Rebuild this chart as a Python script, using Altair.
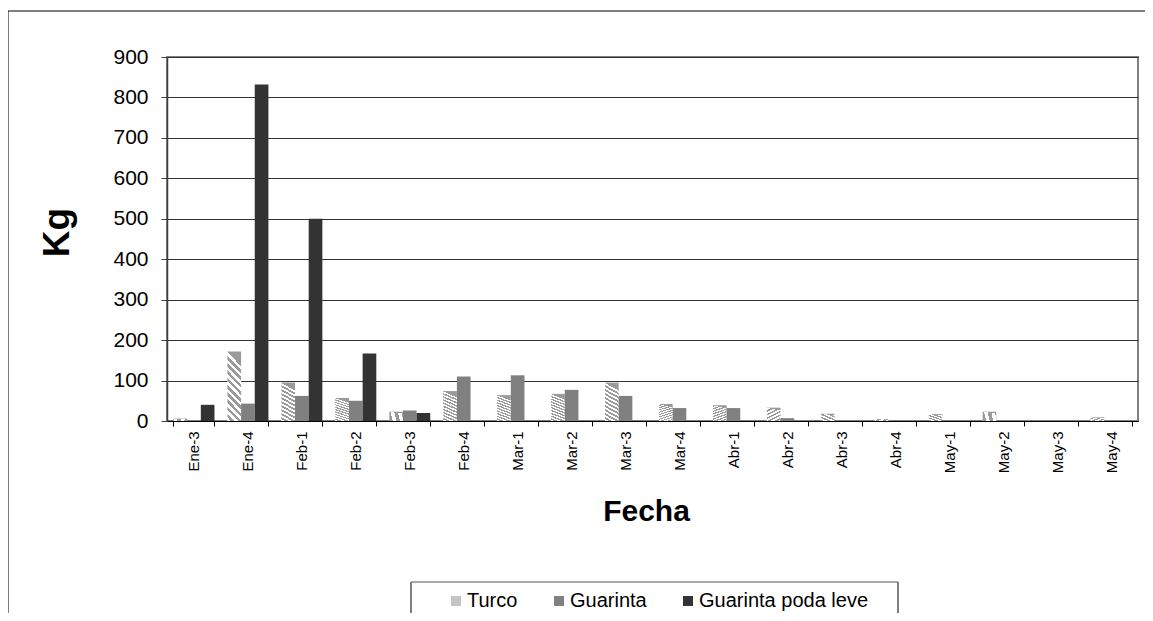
import altair as alt
import pandas as pd

categorias = ["Ene-3", "Ene-4", "Feb-1", "Feb-2", "Feb-3", "Feb-4", "Mar-1", "Mar-2", "Mar-3",
              "Mar-4", "Abr-1", "Abr-2", "Abr-3", "Abr-4", "May-1", "May-2", "May-3", "May-4"]
series = ["Turco", "Guarinta", "Guarinta poda leve"]
turco = [6, 172, 95, 57, 23, 74, 64, 67, 95, 42, 39, 33, 18, 5, 17, 23, 0, 9]
guarinta = [0, 43, 62, 50, 26, 110, 113, 77, 62, 32, 32, 7, 2, 1, 0, 0, 0, 0]
poda_leve = [40, 832, 500, 167, 20, 0, 0, 0, 0, 0, 0, 0, 0, 0, 0, 0, 0, 0]
y_ticks = [0, 100, 200, 300, 400, 500, 600, 700, 800, 900]

rows = []
for serie, vals in zip(series, [turco, guarinta, poda_leve]):
    for c, v in zip(categorias, vals):
        rows.append({"Fecha": c, "Serie": serie, "Kg": v})
df = pd.DataFrame(rows)

FONT = "Liberation Sans, Arial, sans-serif"
W, H = 971, 364

# diagonal hatch for "Turco"
N = 10
stops = []
for k in range(N):
    stops += [
        {"offset": k / N, "color": "#9a9a9a"},
        {"offset": (k + 0.5) / N, "color": "#9a9a9a"},
        {"offset": (k + 0.5) / N, "color": "#ffffff"},
        {"offset": (k + 1) / N, "color": "#ffffff"},
    ]
hatch = {"gradient": "linear", "x1": 0.2, "y1": 0, "x2": 0, "y2": 1, "stops": stops}

bars = alt.Chart(df).mark_bar().encode(
    x=alt.X("Fecha:N", sort=categorias,
            scale=alt.Scale(paddingInner=0.24, paddingOuter=0.12),
            axis=alt.Axis(title="Fecha", labelAngle=270, labelFontSize=15, labelFont=FONT,
                          labelColor="black", labelPadding=5, tickSize=5, tickColor="black",
                          tickBand="extent", domainColor="black", domainWidth=1,
                          titleFont=FONT, titleFontSize=30, titleFontWeight="bold",
                          titleColor="black", titlePadding=24, titleX=479, grid=False)),
    xOffset=alt.XOffset("Serie:N", sort=series, scale=alt.Scale(domain=series, paddingInner=0)),
    y=alt.Y("Kg:Q", scale=alt.Scale(domain=[0, 900], nice=False),
            axis=alt.Axis(values=y_ticks, title="Kg", labelFontSize=21, labelFont=FONT,
                          labelColor="black", labelPadding=13, tickSize=6, tickColor="#404040",
                          domainColor="#404040", domainWidth=1.5, gridColor="#333333",
                          gridWidth=1, titleFont=FONT, titleFontSize=37,
                          titleFontWeight="bold", titleColor="black", titlePadding=36,
                          titleY=175)),
    color=alt.condition(
        alt.datum.Serie == "Turco",
        alt.value(hatch),
        alt.Color("Serie:N", sort=series,
                  scale=alt.Scale(domain=series, range=["#c4c4c4", "#808080", "#333333"]),
                  legend=alt.Legend(title=None, orient="none", legendX=279, legendY=534,
                                    direction="horizontal", symbolType="square",
                                    symbolSize=100, symbolStrokeWidth=0, labelFont=FONT,
                                    labelFontSize=20, labelColor="black", labelOffset=1,
                                    labelLimit=400, columnPadding=31, padding=0)),
    ),
)

one = alt.Data(values=[{"k": 1}])
frame_top = alt.Chart(one).mark_rule(color="black", strokeWidth=1).encode(
    x=alt.value(-159), x2=alt.value(W + 20), y=alt.value(-46))
frame_left = alt.Chart(one).mark_rule(color="black", strokeWidth=1).encode(
    x=alt.value(-159), y=alt.value(-46), y2=alt.value(H + 240))
leg_top = alt.Chart(one).mark_rule(color="#555555", strokeWidth=1).encode(
    x=alt.value(244), x2=alt.value(731), y=alt.value(525))
leg_left = alt.Chart(one).mark_rule(color="#555555", strokeWidth=1.5).encode(
    x=alt.value(244), y=alt.value(525), y2=alt.value(H + 240))
leg_right = alt.Chart(one).mark_rule(color="#555555", strokeWidth=1.5).encode(
    x=alt.value(731), y=alt.value(525), y2=alt.value(H + 240))

chart = alt.layer(bars, frame_top, frame_left, leg_top, leg_left, leg_right).properties(
    width=W, height=H,
    autosize=alt.AutoSizeParams(type="none"),
    padding={"left": 159, "top": 49, "right": 7, "bottom": 192},
    background="white",
).configure_view(stroke="#808080", strokeWidth=2)

chart.save("out.html", embed_options={"renderer": "svg", "actions": False})
